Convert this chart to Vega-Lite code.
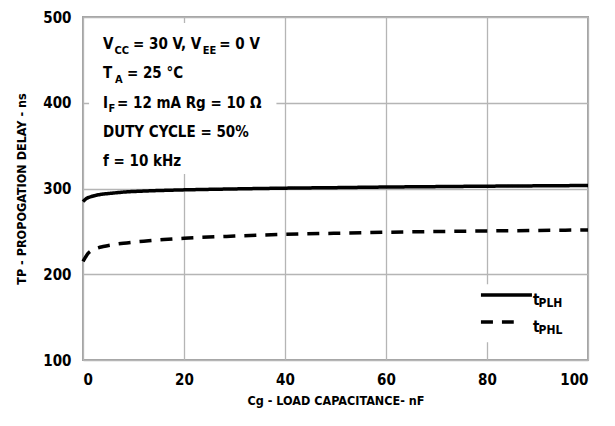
{
  "$schema": "https://vega.github.io/schema/vega-lite/v6.json",
  "autosize": {"type": "none"},
  "padding": {"left": 83, "top": 17, "right": 27, "bottom": 66},
  "width": 505,
  "height": 343,
  "background": "white",
  "config": {
    "view": {"stroke": "#a3a3a3", "strokeWidth": 2},
    "font": "DejaVu Sans Condensed",
    "axis": {
      "labelFont": "DejaVu Sans Condensed",
      "titleFont": "DejaVu Sans Condensed",
      "labelFontWeight": "bold",
      "titleFontWeight": "bold",
      "labelFontSize": 15,
      "titleFontSize": 12.5,
      "labelColor": "black",
      "titleColor": "black",
      "domain": false,
      "ticks": false,
      "gridColor": "#b5b5b5",
      "gridWidth": 1.3,
      "gridOpacity": 1
    }
  },
  "datasets": {
    "curves": [
      {"cg": 0, "tp": 284.7, "series": "tPLH"},
      {"cg": 0.5, "tp": 287.5, "series": "tPLH"},
      {"cg": 1, "tp": 289.3, "series": "tPLH"},
      {"cg": 1.6, "tp": 290.5, "series": "tPLH"},
      {"cg": 2.5, "tp": 292, "series": "tPLH"},
      {"cg": 4, "tp": 293.5, "series": "tPLH"},
      {"cg": 5.5, "tp": 294.4, "series": "tPLH"},
      {"cg": 8, "tp": 295.8, "series": "tPLH"},
      {"cg": 12, "tp": 297, "series": "tPLH"},
      {"cg": 16, "tp": 297.8, "series": "tPLH"},
      {"cg": 20, "tp": 298.4, "series": "tPLH"},
      {"cg": 30, "tp": 299.5, "series": "tPLH"},
      {"cg": 40, "tp": 300.4, "series": "tPLH"},
      {"cg": 50, "tp": 301, "series": "tPLH"},
      {"cg": 60, "tp": 301.7, "series": "tPLH"},
      {"cg": 70, "tp": 302.2, "series": "tPLH"},
      {"cg": 80, "tp": 302.7, "series": "tPLH"},
      {"cg": 90, "tp": 303.1, "series": "tPLH"},
      {"cg": 100, "tp": 303.5, "series": "tPLH"},
      {"cg": 0, "tp": 215, "series": "tPHL"},
      {"cg": 0.5, "tp": 220, "series": "tPHL"},
      {"cg": 1, "tp": 224.3, "series": "tPHL"},
      {"cg": 2, "tp": 228.5, "series": "tPHL"},
      {"cg": 3, "tp": 230.8, "series": "tPHL"},
      {"cg": 4, "tp": 232.3, "series": "tPHL"},
      {"cg": 6, "tp": 234.5, "series": "tPHL"},
      {"cg": 8, "tp": 236.2, "series": "tPHL"},
      {"cg": 10, "tp": 237.5, "series": "tPHL"},
      {"cg": 13, "tp": 239, "series": "tPHL"},
      {"cg": 16, "tp": 240.5, "series": "tPHL"},
      {"cg": 20, "tp": 242, "series": "tPHL"},
      {"cg": 30, "tp": 244.5, "series": "tPHL"},
      {"cg": 40, "tp": 246.5, "series": "tPHL"},
      {"cg": 50, "tp": 247.8, "series": "tPHL"},
      {"cg": 60, "tp": 249, "series": "tPHL"},
      {"cg": 70, "tp": 249.8, "series": "tPHL"},
      {"cg": 80, "tp": 250.5, "series": "tPHL"},
      {"cg": 90, "tp": 251.1, "series": "tPHL"},
      {"cg": 100, "tp": 251.7, "series": "tPHL"}
    ],
    "boxes": [
      {"x": 1.2, "x2": 38.3, "y": 317, "y2": 493},
      {"x": 76.5, "x2": 98, "y": 120.6, "y2": 188.2}
    ],
    "legendLines": [
      {"x": 78.8, "x2": 88.9, "y": 175.8, "series": "tPLH"},
      {"x": 78.8, "x2": 85.3, "y": 144.3, "series": "tPHL"}
    ],
    "mainText": [
      {"x": 3.96, "y": 462.1, "text": "V"},
      {"x": 9.9, "y": 462.1, "text": "= 30 V, V"},
      {"x": 27.0, "y": 462.1, "text": "= 0 V"},
      {"x": 3.96, "y": 428.3, "text": "T"},
      {"x": 8.7, "y": 428.3, "text": "= 25 °C"},
      {"x": 3.96, "y": 393.9, "text": "I"},
      {"x": 6.73, "y": 393.9, "text": "= 12 mA Rg = 10  Ω"},
      {"x": 3.96, "y": 360.1, "text": "DUTY CYCLE = 50%"},
      {"x": 3.96, "y": 326.2, "text": "f = 10 kHz"},
      {"x": 89.1, "y": 164, "text": "t"},
      {"x": 89.1, "y": 133, "text": "t"}
    ],
    "subText": [
      {"x": 6.24, "y": 457.4, "text": "CC"},
      {"x": 23.7, "y": 457.4, "text": "EE"},
      {"x": 6.34, "y": 423.6, "text": "A"},
      {"x": 5.05, "y": 389.2, "text": "F"}
    ],
    "legendSub": [
      {"x": 90.2, "y": 161.5, "text": "PLH"},
      {"x": 90.2, "y": 130.5, "text": "PHL"}
    ]
  },
  "layer": [
    {
      "data": {"name": "boxes"},
      "mark": {"type": "rect", "fill": "white"},
      "encoding": {
        "x": {"field": "x", "type": "quantitative", "scale": {"domain": [0, 100]},
          "axis": {"values": [0, 20, 40, 60, 80, 100], "labelPadding": 12, "title": "Cg - LOAD CAPACITANCE- nF", "titlePadding": 7}},
        "x2": {"field": "x2"},
        "y": {"field": "y", "type": "quantitative", "scale": {"domain": [100, 500]},
          "axis": {"values": [100, 200, 300, 400, 500], "labelPadding": 12, "title": "TP - PROPOGATION DELAY - ns", "titlePadding": 14}},
        "y2": {"field": "y2"}
      }
    },
    {
      "data": {"name": "curves"},
      "mark": {"type": "line", "color": "black", "strokeWidth": 3.5, "interpolate": "monotone", "strokeCap": "butt"},
      "encoding": {
        "x": {"field": "cg", "type": "quantitative"},
        "y": {"field": "tp", "type": "quantitative"},
        "detail": {"field": "series"},
        "strokeDash": {"field": "series", "type": "nominal", "scale": {"domain": ["tPLH", "tPHL"], "range": [[1, 0], [12, 9]]}, "legend": null}
      }
    },
    {
      "data": {"name": "legendLines"},
      "mark": {"type": "rule", "color": "black", "strokeWidth": 3.5, "strokeCap": "butt"},
      "encoding": {
        "x": {"field": "x", "type": "quantitative"},
        "x2": {"field": "x2"},
        "y": {"field": "y", "type": "quantitative"},
        "strokeDash": {"field": "series", "type": "nominal", "legend": null}
      }
    },
    {
      "data": {"name": "mainText"},
      "mark": {"type": "text", "align": "left", "baseline": "alphabetic", "fontSize": 15, "fontWeight": "bold", "color": "black", "font": "DejaVu Sans Condensed"},
      "encoding": {
        "x": {"field": "x", "type": "quantitative"},
        "y": {"field": "y", "type": "quantitative"},
        "text": {"field": "text"}
      }
    },
    {
      "data": {"name": "subText"},
      "mark": {"type": "text", "align": "left", "baseline": "alphabetic", "fontSize": 11, "fontWeight": "bold", "color": "black", "font": "DejaVu Sans Condensed"},
      "encoding": {
        "x": {"field": "x", "type": "quantitative"},
        "y": {"field": "y", "type": "quantitative"},
        "text": {"field": "text"}
      }
    },
    {
      "data": {"name": "legendSub"},
      "mark": {"type": "text", "align": "left", "baseline": "alphabetic", "fontSize": 12, "fontWeight": "bold", "color": "black", "font": "DejaVu Sans Condensed"},
      "encoding": {
        "x": {"field": "x", "type": "quantitative"},
        "y": {"field": "y", "type": "quantitative"},
        "text": {"field": "text"}
      }
    }
  ]
}
